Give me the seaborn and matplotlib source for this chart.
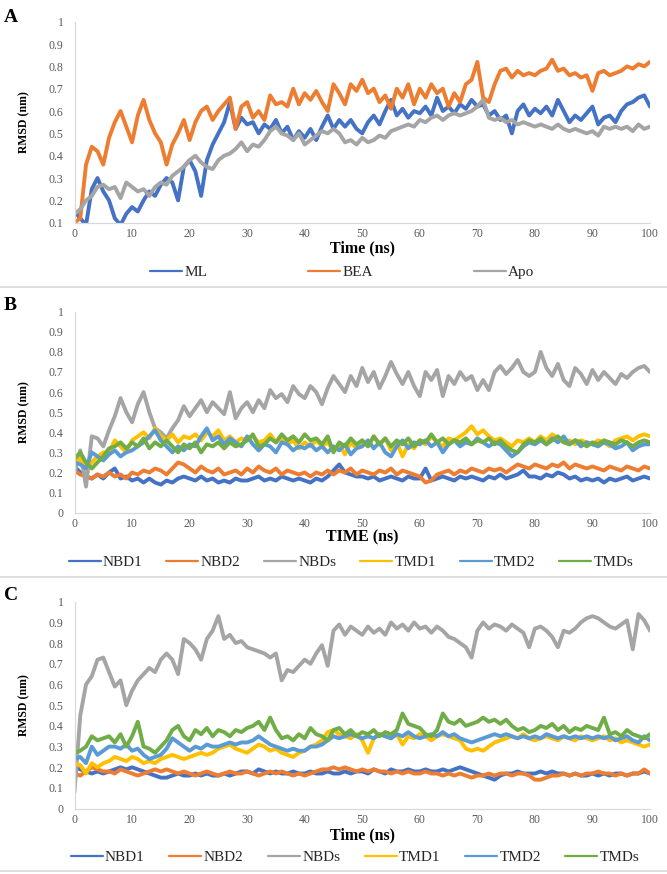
import numpy as np
import pandas as pd
import matplotlib
matplotlib.use("Agg")
import matplotlib.pyplot as plt
import seaborn as sns
from matplotlib.lines import Line2D

# ---------------- data (RMSD in units of 0.01 nm, sampled every 1 ns) ----------------
time_ns = list(range(0, 101))

A_ML = [15, 12, 9, 25, 30, 24, 20, 12, 9, 14, 17, 15, 20, 24, 22, 27, 30, 28, 20, 35,
        38, 33, 22, 38, 45, 50, 55, 64, 52, 57, 54, 55, 50, 54, 52, 56, 50, 53, 47, 51,
        48, 52, 47, 53, 58, 52, 56, 53, 56, 52, 50, 55, 58, 54, 60, 65, 58, 61, 57, 60,
        59, 62, 58, 66, 60, 62, 59, 63, 61, 65, 62, 63, 58, 60, 56, 58, 50, 60, 63, 58,
        61, 59, 62, 58, 65, 60, 55, 58, 56, 59, 62, 54, 57, 58, 55, 60, 63, 64, 66, 67, 62]
A_BEA = [10, 12, 36, 44, 42, 36, 48, 55, 60, 53, 46, 58, 65, 56, 50, 46, 36, 45, 50, 56,
         47, 55, 60, 62, 56, 60, 63, 66, 52, 62, 64, 57, 60, 56, 67, 63, 64, 62, 70, 63,
         68, 65, 69, 64, 60, 72, 68, 63, 72, 69, 74, 68, 70, 64, 67, 61, 70, 66, 72, 63,
         70, 66, 72, 68, 70, 62, 68, 64, 72, 74, 82, 66, 64, 72, 78, 79, 75, 78, 76, 77,
         76, 78, 79, 83, 78, 79, 76, 77, 75, 76, 69, 77, 78, 76, 77, 78, 80, 79, 81, 80, 82]
A_Apo = [14, 16, 20, 22, 26, 27, 25, 26, 21, 28, 26, 24, 25, 22, 26, 28, 27, 31, 33, 35,
         38, 40, 37, 35, 34, 38, 40, 41, 43, 46, 42, 45, 44, 47, 51, 53, 50, 49, 47, 50,
         45, 47, 49, 51, 50, 52, 50, 46, 47, 45, 48, 46, 47, 49, 48, 51, 52, 53, 54, 53,
         56, 55, 57, 58, 56, 58, 59, 58, 59, 60, 62, 65, 57, 56, 57, 55, 56, 54, 55, 54,
         53, 54, 53, 52, 54, 52, 51, 52, 51, 50, 51, 49, 53, 52, 53, 52, 53, 51, 54, 52, 53]

B_NBD1 = [23, 20, 18, 17, 19, 17, 20, 22, 17, 18, 16, 17, 15, 17, 15, 14, 16, 15, 17, 18,
          17, 16, 18, 16, 17, 15, 16, 15, 17, 16, 16, 17, 18, 16, 17, 16, 18, 17, 16, 17,
          16, 15, 17, 16, 18, 21, 24, 20, 19, 18, 18, 17, 18, 16, 17, 18, 17, 16, 18, 17,
          17, 22, 16, 17, 18, 17, 16, 18, 17, 18, 17, 16, 18, 17, 19, 17, 18, 19, 21, 18,
          18, 17, 19, 18, 20, 19, 17, 18, 16, 17, 16, 17, 15, 17, 16, 17, 18, 16, 17, 18, 17]
B_NBD2 = [21, 19, 18, 17, 19, 18, 20, 18, 19, 17, 20, 19, 21, 20, 22, 21, 19, 22, 25, 24,
          22, 20, 23, 21, 20, 22, 19, 20, 21, 19, 22, 20, 23, 21, 20, 22, 19, 21, 20, 19,
          20, 18, 20, 19, 21, 19, 21, 20, 22, 19, 21, 20, 19, 21, 20, 22, 19, 21, 20, 19,
          18, 15, 16, 19, 20, 21, 19, 21, 20, 22, 21, 20, 22, 21, 22, 20, 22, 24, 23, 22,
          24, 23, 22, 24, 23, 25, 22, 24, 23, 22, 23, 22, 21, 23, 22, 21, 23, 22, 21, 23, 22]
B_NBDs = [20, 31, 13, 38, 37, 33, 41, 48, 57, 50, 45, 54, 60, 50, 42, 40, 37, 42, 46, 53,
          48, 52, 56, 50, 55, 52, 49, 60, 47, 52, 55, 50, 56, 52, 61, 57, 59, 55, 63, 59,
          57, 63, 60, 54, 62, 68, 64, 60, 68, 63, 72, 65, 70, 62, 68, 75, 69, 64, 70, 63,
          58, 70, 66, 71, 58, 68, 64, 70, 66, 68, 61, 66, 61, 70, 73, 69, 72, 76, 70, 68,
          70, 80, 72, 68, 74, 66, 63, 72, 69, 64, 71, 66, 70, 67, 64, 69, 67, 70, 72, 73, 70]
B_TMD1 = [24, 27, 22, 25, 28, 30, 30, 36, 33, 30, 36, 38, 40, 37, 42, 38, 36, 39, 35, 38,
          37, 39, 36, 40, 38, 41, 36, 38, 35, 37, 36, 38, 35, 36, 39, 35, 37, 34, 36, 32,
          35, 33, 36, 33, 35, 31, 34, 29, 35, 32, 36, 33, 38, 34, 37, 31, 35, 28, 34, 32,
          36, 34, 38, 35, 33, 37, 36, 38, 40, 43, 39, 41, 38, 36, 37, 35, 33, 36, 35, 37,
          35, 38, 36, 39, 37, 35, 36, 34, 36, 35, 34, 36, 35, 33, 36, 37, 38, 36, 38, 39, 38]
B_TMD2 = [25, 24, 22, 30, 28, 26, 29, 31, 28, 30, 31, 33, 35, 38, 41, 36, 33, 30, 33, 31,
          34, 33, 38, 42, 36, 38, 34, 37, 35, 33, 38, 34, 31, 34, 33, 30, 35, 34, 31, 33,
          32, 34, 31, 33, 30, 33, 31, 34, 29, 32, 33, 36, 32, 35, 30, 28, 33, 36, 32, 35,
          34, 36, 33, 35, 30, 34, 36, 33, 35, 34, 37, 35, 33, 35, 34, 31, 28, 30, 33, 35,
          34, 36, 34, 37, 35, 38, 34, 36, 33, 35, 34, 33, 35, 34, 32, 33, 35, 31, 33, 34, 34]
B_TMDs = [27, 30, 25, 22, 25, 28, 32, 33, 35, 32, 35, 33, 37, 32, 35, 33, 36, 33, 30, 34,
          32, 35, 30, 34, 33, 35, 32, 35, 33, 34, 36, 39, 33, 34, 37, 35, 39, 36, 38, 35,
          39, 36, 37, 34, 38, 30, 35, 33, 37, 34, 36, 33, 38, 34, 37, 33, 36, 34, 37, 33,
          36, 35, 39, 35, 37, 34, 36, 35, 37, 34, 36, 35, 37, 34, 36, 33, 31, 30, 34, 36,
          35, 37, 34, 36, 38, 35, 34, 36, 35, 33, 35, 34, 36, 35, 34, 36, 35, 33, 35, 36, 35]

C_NBD1 = [20, 19, 18, 17, 18, 17, 18, 19, 20, 19, 20, 19, 18, 17, 16, 15, 15, 16, 17, 16,
          16, 17, 16, 17, 16, 16, 17, 16, 17, 18, 18, 17, 19, 18, 17, 18, 17, 17, 18, 17,
          17, 18, 17, 17, 18, 17, 17, 18, 17, 18, 18, 17, 19, 18, 17, 19, 18, 18, 19, 18,
          18, 19, 18, 18, 19, 18, 19, 20, 19, 18, 17, 16, 15, 14, 16, 17, 17, 18, 17, 17,
          17, 18, 17, 18, 17, 17, 16, 17, 16, 16, 17, 16, 17, 16, 17, 17, 16, 17, 17, 18, 17]
C_NBD2 = [17, 16, 18, 20, 19, 18, 18, 17, 19, 18, 17, 16, 17, 18, 19, 18, 19, 18, 17, 18,
          17, 16, 17, 18, 17, 16, 17, 18, 17, 17, 18, 17, 16, 17, 18, 17, 18, 17, 16, 17,
          16, 17, 18, 19, 19, 20, 19, 20, 19, 18, 19, 18, 19, 18, 18, 17, 18, 17, 18, 17,
          17, 18, 17, 17, 16, 17, 16, 17, 16, 15, 16, 16, 17, 16, 17, 17, 16, 17, 17, 16,
          14, 14, 15, 16, 16, 17, 16, 17, 16, 17, 17, 18, 17, 17, 16, 17, 16, 17, 17, 19, 17]
C_NBDs = [8, 45, 60, 64, 72, 73, 66, 59, 62, 50, 57, 62, 65, 68, 66, 72, 75, 72, 65, 82,
          80, 77, 72, 82, 86, 93, 82, 84, 80, 81, 78, 77, 76, 75, 73, 75, 62, 67, 66, 69,
          72, 70, 75, 79, 69, 86, 89, 84, 88, 86, 84, 88, 85, 87, 84, 90, 87, 89, 86, 90,
          87, 88, 85, 88, 86, 83, 82, 80, 78, 73, 86, 90, 87, 89, 88, 86, 89, 87, 85, 78,
          87, 88, 86, 83, 78, 86, 85, 87, 90, 92, 93, 92, 90, 88, 87, 89, 91, 77, 94, 91, 86]
C_TMD1 = [22, 21, 17, 22, 20, 22, 23, 25, 24, 23, 25, 24, 22, 23, 22, 24, 25, 26, 25, 24,
          25, 26, 27, 26, 27, 29, 30, 31, 29, 28, 27, 29, 31, 30, 28, 29, 27, 26, 25, 27,
          28, 30, 31, 33, 37, 38, 36, 35, 34, 36, 33, 27, 34, 36, 35, 34, 36, 31, 35, 34,
          36, 35, 33, 35, 36, 35, 34, 33, 29, 28, 29, 28, 30, 32, 33, 34, 35, 34, 36, 34,
          33, 34, 35, 34, 33, 35, 34, 33, 35, 34, 33, 34, 35, 33, 34, 32, 33, 32, 31, 30, 31]
C_TMD2 = [24, 25, 22, 30, 26, 28, 30, 30, 29, 31, 28, 29, 26, 24, 25, 26, 29, 34, 32, 30,
          28, 30, 29, 31, 30, 30, 31, 32, 31, 32, 32, 33, 35, 33, 31, 30, 29, 28, 29, 28,
          28, 30, 30, 31, 33, 35, 34, 35, 36, 35, 34, 35, 34, 36, 35, 34, 36, 35, 37, 35,
          34, 35, 36, 35, 37, 35, 36, 34, 33, 32, 33, 34, 35, 36, 35, 36, 35, 34, 35, 34,
          35, 34, 36, 35, 34, 35, 34, 35, 34, 35, 34, 35, 34, 35, 33, 34, 35, 33, 32, 35, 33]
C_TMDs = [27, 28, 30, 35, 33, 34, 35, 32, 36, 30, 35, 42, 30, 29, 27, 30, 33, 38, 40, 35,
          33, 38, 36, 39, 35, 38, 37, 35, 38, 37, 39, 40, 42, 38, 44, 38, 34, 35, 33, 36,
          34, 39, 36, 35, 33, 38, 39, 36, 38, 35, 37, 36, 38, 35, 37, 36, 38, 46, 41, 40,
          39, 36, 35, 38, 46, 42, 41, 43, 40, 41, 42, 44, 42, 43, 41, 43, 40, 38, 39, 37,
          38, 40, 39, 41, 38, 40, 37, 39, 38, 40, 39, 38, 44, 36, 37, 35, 38, 36, 35, 34, 36]

labels_A = ["ML", "BEA", "Apo"]
labels_BC = ["NBD1", "NBD2", "NBDs", "TMD1", "TMD2", "TMDs"]
x_ticks = [0, 10, 20, 30, 40, 50, 60, 70, 80, 90, 100]

# ---------------- style ----------------
sns.set_theme(style="white")
plt.rcParams["font.family"] = ["Liberation Serif", "DejaVu Serif"]

colors_A = ["#4472C4", "#ED7D31", "#A5A5A5"]
colors_BC = ["#4472C4", "#ED7D31", "#A5A5A5", "#FFC000", "#5B9BD5", "#70AD47"]

W, H = 667, 874
fig = plt.figure(figsize=(W / 100, H / 100), dpi=100)


def fx(x):
    return x / W


def fy(y):
    return 1 - y / H


def make_panel(top, bottom, series, labels, colors, ymin, letter, xlabel,
               letter_y, xlabel_y, legend_y, legend_cx, colspace):
    left, right = 74.5, 650.0
    ax = fig.add_axes([fx(left), fy(bottom), fx(right) - fx(left), (bottom - top) / H])
    for vals, lab, col in zip(series, labels, colors):
        sns.lineplot(x=time_ns, y=np.array(vals) / 100.0, ax=ax, color=col,
                     lw=2.8, legend=False)
    ax.set_xlim(0, 100)
    ax.set_ylim(ymin, 1.0)
    yt = [round(v, 1) for v in np.arange(ymin, 1.0001, 0.1)]
    ax.set_yticks(yt)
    ax.set_yticklabels(["0" if v == 0 else ("1" if v == 1 else f"{v:.1f}") for v in yt])
    ax.set_xticks(x_ticks)
    ax.set_xticklabels([str(v) for v in x_ticks])
    ax.tick_params(axis="both", length=0, labelsize=8.5, colors="#595959")
    ax.tick_params(axis="y", pad=8)
    ax.tick_params(axis="x", pad=4)
    for s in ["top", "right"]:
        ax.spines[s].set_visible(False)
    for s in ["left", "bottom"]:
        ax.spines[s].set_color("#D9D9D9")
        ax.spines[s].set_linewidth(0.9)
    ax.set_xlabel("")
    ax.set_ylabel("")
    ax.grid(False)
    ax.set_facecolor("white")
    # labels
    fig.text(fx(24), fy((top + bottom) / 2), "RMSD (nm)", rotation=90, ha="center",
             va="center", fontsize=8.5, fontweight="bold", color="black")
    fig.text(fx((left + right) / 2), fy(xlabel_y), xlabel, ha="center", va="center",
             fontsize=11.5, fontweight="bold", color="black")
    fig.text(fx(4), fy(letter_y), letter, ha="left", va="center",
             fontsize=14, fontweight="bold", color="black")
    handles = [Line2D([], [], color=c, lw=1.6) for c in colors]
    fig.legend(handles, labels, loc="center", bbox_to_anchor=(fx(legend_cx), fy(legend_y)),
               ncol=len(labels), frameon=False, fontsize=11, handlelength=2.1,
               handletextpad=0.15, columnspacing=colspace, borderaxespad=0)
    return ax


make_panel(21.7, 222.7, [A_ML, A_BEA, A_Apo], labels_A, colors_A, 0.1, "A",
           "Time (ns)", 18, 248, 272, 342, 6.6)
make_panel(311.7, 512.7, [B_NBD1, B_NBD2, B_NBDs, B_TMD1, B_TMD2, B_TMDs], labels_BC,
           colors_BC, 0.0, "B", "TIME (ns)", 305, 537, 562, 351, 1.55)
make_panel(601.7, 808.7, [C_NBD1, C_NBD2, C_NBDs, C_TMD1, C_TMD2, C_TMDs], labels_BC,
           colors_BC, 0.0, "C", "Time (ns)", 596, 835, 857, 355, 1.6)

for yy in [287, 577, 871]:
    fig.add_artist(Line2D([0, 1], [fy(yy), fy(yy)], color="#D9D9D9", lw=1.2,
                          transform=fig.transFigure))

fig.savefig("out.png", dpi=100, facecolor="white")
